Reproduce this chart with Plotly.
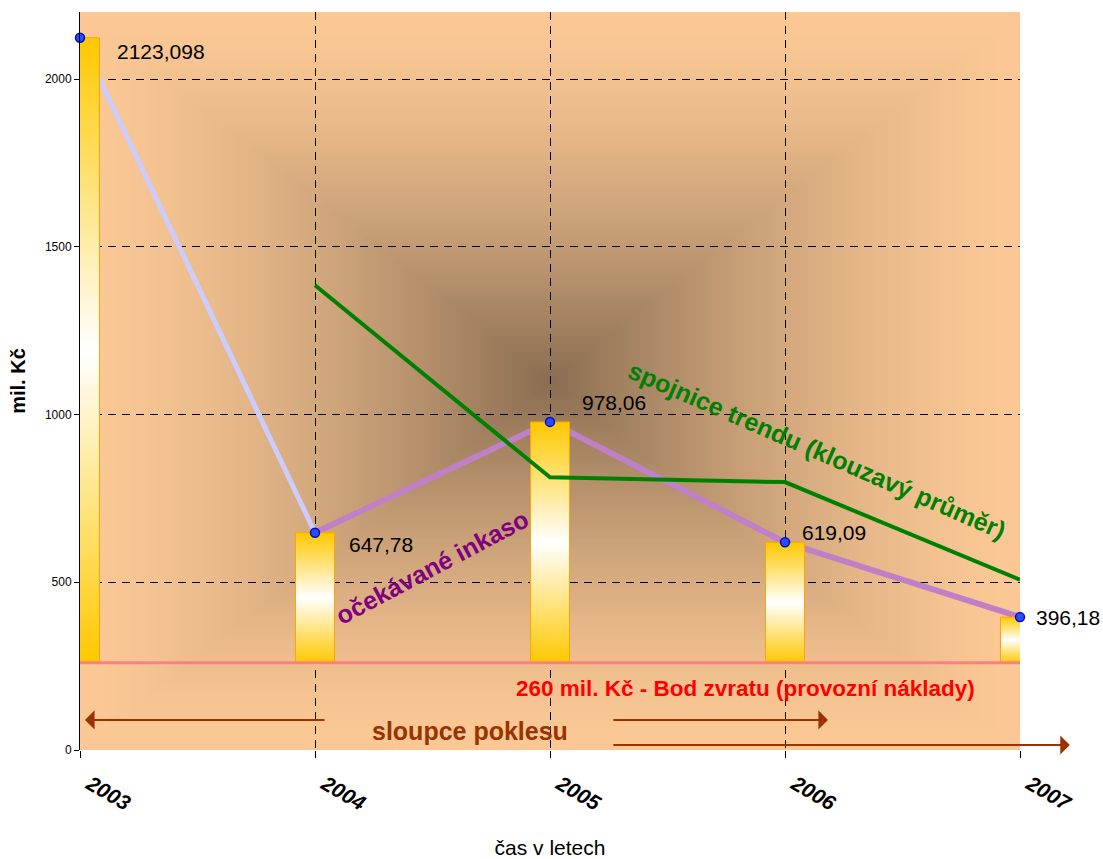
import base64
import struct
import zlib

import numpy as np
import plotly.graph_objects as go

# ---------------- data ----------------
years = [2003, 2004, 2005, 2006, 2007]
values = [2123.098, 647.78, 978.06, 619.09, 396.18]
value_labels = ["2123,098", "647,78", "978,06", "619,09", "396,18"]
trend_years = [2004, 2005, 2006, 2007]
trend_values = [1385.44, 812.92, 798.58, 507.64]
break_even = 260
year_ticks = ["2003", "2004", "2005", "2006", "2007"]
y_ticks = [0, 500, 1000, 1500, 2000]

FONT = "Arial, Liberation Sans, sans-serif"


# ---------------- background (rectangular "from centre" gradient) ----------------
def make_png(rgb):
    h, w, _ = rgb.shape
    raw = b"".join(b"\x00" + rgb[i].astype(np.uint8).tobytes() for i in range(h))

    def chunk(tag, data):
        c = struct.pack(">I", len(data)) + tag + data
        return c + struct.pack(">I", zlib.crc32(tag + data) & 0xFFFFFFFF)

    return (b"\x89PNG\r\n\x1a\n"
            + chunk(b"IHDR", struct.pack(">IIBBBBB", w, h, 8, 2, 0, 0, 0))
            + chunk(b"IDAT", zlib.compress(raw, 9))
            + chunk(b"IEND", b""))


W, H = 235, 185
gx = (np.arange(W) + 0.5) / W * 2 - 1
gy = (np.arange(H) + 0.5) / H * 2 - 1
t = np.maximum(np.abs(gx)[None, :], np.abs(gy)[:, None])
f = 1 - (1 - t) ** 1.5
dark = np.array([138, 110, 82], dtype=float)
peach = np.array([252, 201, 150], dtype=float)
img = dark[None, None, :] + (peach - dark)[None, None, :] * f[..., None]
bg_src = "data:image/png;base64," + base64.b64encode(make_png(np.clip(img, 0, 255))).decode()

fig = go.Figure()

# purple "expected income" line (drawn behind bars)
fig.add_trace(go.Scatter(x=years[:2], y=values[:2], mode="lines",
                         line=dict(color="#CCCCFF", width=5),
                         hoverinfo="skip", showlegend=False))
fig.add_trace(go.Scatter(x=years[1:], y=values[1:], mode="lines",
                         line=dict(color="#C080C8", width=6),
                         hoverinfo="skip", showlegend=False))

# bars with vertical gradient, from break-even level up to value
half = 0.083
for yr, v in zip(years, values):
    fig.add_trace(go.Scatter(
        x=[yr - half, yr + half, yr + half, yr - half, yr - half],
        y=[break_even, break_even, v, v, break_even],
        mode="lines", fill="toself",
        line=dict(color="#FFA500", width=1),
        fillgradient=dict(type="vertical",
                          colorscale=[[0, "#FFC800"], [0.5, "#FFFFFF"], [1, "#FFC800"]]),
        hoverinfo="skip", showlegend=False))

# break-even line
fig.add_trace(go.Scatter(x=[years[0], years[-1]], y=[break_even, break_even], mode="lines",
                         line=dict(color="#FF7F7F", width=3),
                         hoverinfo="skip", showlegend=False))

# moving-average trend
fig.add_trace(go.Scatter(x=trend_years, y=trend_values, mode="lines",
                         line=dict(color="#008000", width=4),
                         hoverinfo="skip", showlegend=False))

# markers
fig.add_trace(go.Scatter(x=years, y=values, mode="markers",
                         marker=dict(size=9, color="#2A4BFF", line=dict(color="#0010C0", width=1.5)),
                         cliponaxis=False, hoverinfo="skip", showlegend=False))

# empty helper trace that carries the inner vertical grid axis
fig.add_trace(go.Scatter(x=[], y=[], xaxis="x2", yaxis="y", mode="markers",
                         hoverinfo="skip", showlegend=False))

annotations = []
shifts = [(35, -14), (32, -12), (30, 19), (15, 10), (14, 0)]
for yr, v, lab, (dx, dy) in zip(years, values, value_labels, shifts):
    annotations.append(dict(x=yr, y=v, xref="x", yref="y", text=lab, showarrow=False,
                            xanchor="left", yanchor="middle", xshift=dx, yshift=dy,
                            font=dict(family=FONT, size=21, color="black")))

annotations += [
    dict(x=0.3745, y=0.248, xref="paper", yref="paper", text="očekávané inkaso",
         showarrow=False, textangle=-28, xanchor="center", yanchor="middle",
         font=dict(family=FONT, size=25, color="#800080", weight="bold")),
    dict(x=0.784, y=0.4065, xref="paper", yref="paper", text="spojnice trendu (klouzavý průměr)",
         showarrow=False, textangle=23.5, xanchor="center", yanchor="middle",
         font=dict(family=FONT, size=25, color="#008000", weight="bold")),
    dict(x=0.7085, y=0.084, xref="paper", yref="paper",
         text="260 mil. Kč - Bod zvratu (provozní náklady)",
         showarrow=False, xanchor="center", yanchor="middle",
         font=dict(family=FONT, size=22.5, color="#FF0000", weight="bold")),
    dict(x=0.415, y=0.0257, xref="paper", yref="paper", text="sloupce poklesu",
         showarrow=False, xanchor="center", yanchor="middle",
         font=dict(family=FONT, size=25, color="#993300", weight="bold")),
]

# arrows
arrow_style = dict(text="", showarrow=True, arrowhead=1, arrowsize=1.6, arrowwidth=2,
                   arrowcolor="#993300", xref="paper", yref="paper", ay=0, standoff=0)
annotations += [
    dict(x=0.0053, y=0.0407, ax=241, **arrow_style),
    dict(x=0.7957, y=0.0407, ax=-216, **arrow_style),
    dict(x=1.053, y=0.0068, ax=-458, **arrow_style),
]

grid = dict(gridcolor="black", gridwidth=1, griddash="8px,6px")

fig.update_layout(
    width=1103, height=859,
    margin=dict(l=80, r=83, t=12, b=109),
    paper_bgcolor="white",
    plot_bgcolor="#FCC996",
    font=dict(family=FONT, color="black"),
    images=[dict(source=bg_src, xref="paper", yref="paper", x=0, y=1, sizex=1, sizey=1,
                 xanchor="left", yanchor="top", sizing="stretch", layer="below")],
    annotations=annotations,
    xaxis=dict(range=[2003, 2007], tickmode="array", tickvals=years, ticktext=year_ticks,
               tickangle=30, tickfont=dict(family=FONT, size=21, color="black",
                                           weight="bold", style="italic"),
               ticklabelshift=10, ticklabelstandoff=6,
               showgrid=False,
               ticks="outside", ticklen=7, tickcolor="black", showline=False, zeroline=False,
               automargin=False,
               title=dict(text="čas v letech", font=dict(family=FONT, size=21, color="black"),
                          standoff=36)),
    xaxis2=dict(range=[2003, 2007], overlaying="x", anchor="y", side="bottom",
                tickmode="array", tickvals=years[1:-1], showticklabels=False, ticks="",
                showgrid=True, showline=False, zeroline=False, automargin=False, **grid),
    yaxis=dict(range=[0, 2200], tickmode="array", tickvals=y_ticks,
               tickfont=dict(family=FONT, size=12, color="black"),
               showgrid=True, **grid,
               ticks="outside", ticklen=5, tickcolor="black",
               showline=True, linecolor="black", linewidth=1, zeroline=False,
               automargin=False,
               title=dict(text="mil. Kč", font=dict(family=FONT, size=20, color="black",
                                                    weight="bold"), standoff=13)),
)

fig.write_html("out.html", config={"displayModeBar": False},
               post_script="document.body.style.margin='0px';")
